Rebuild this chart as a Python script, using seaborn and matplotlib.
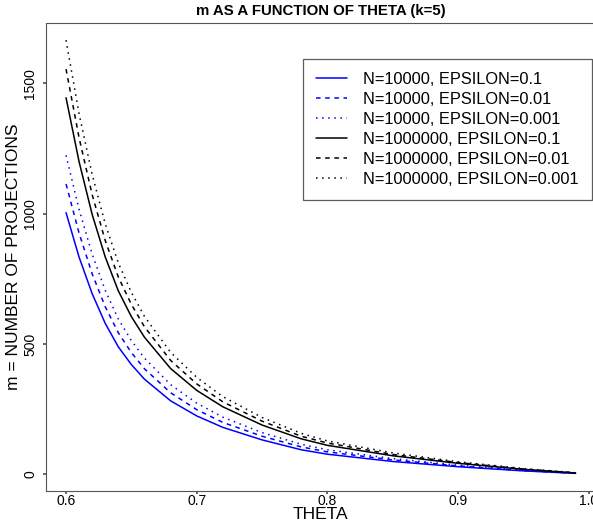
import matplotlib
matplotlib.use("Agg")
import matplotlib.pyplot as plt
import seaborn as sns
import pandas as pd

# values
theta = [0.60, 0.61, 0.62, 0.63, 0.64, 0.65, 0.66, 0.68, 0.70, 0.72,
         0.75, 0.78, 0.80, 0.85, 0.90, 0.95, 0.99]

m_n1e4_e1 = [1004, 833, 693, 579, 489, 421, 365, 282, 224, 180,
             132, 94, 77, 49, 29, 13, 3.4]
m_n1e4_e2 = [1114, 925, 769, 643, 543, 467, 405, 313, 248, 199,
             146, 105, 86, 55, 32, 14, 3.8]
m_n1e4_e3 = [1224, 1016, 845, 706, 596, 513, 446, 344, 273, 219,
             160, 115, 94, 60, 35, 16, 4.2]
m_n1e6_e1 = [1445, 1199, 997, 834, 704, 605, 526, 406, 322, 259,
             189, 136, 111, 71, 42, 19, 4.9]
m_n1e6_e2 = [1555, 1291, 1073, 897, 757, 652, 566, 437, 347, 278,
             204, 146, 120, 76, 45, 20, 5.3]
m_n1e6_e3 = [1666, 1383, 1150, 961, 811, 698, 606, 468, 372, 298,
             218, 157, 128, 82, 48, 22, 5.7]

labels = ["N=10000, EPSILON=0.1", "N=10000, EPSILON=0.01", "N=10000, EPSILON=0.001",
          "N=1000000, EPSILON=0.1", "N=1000000, EPSILON=0.01", "N=1000000, EPSILON=0.001"]
series = [m_n1e4_e1, m_n1e4_e2, m_n1e4_e3, m_n1e6_e1, m_n1e6_e2, m_n1e6_e3]
colors = ["#0000ff"] * 3 + ["black"] * 3
styles = ["-", (0, (3, 3)), (0, (1, 3))] * 2

sns.set_theme(style="white")
plt.rcParams["font.family"] = ["Liberation Sans", "DejaVu Sans"]
plt.rcParams["text.color"] = "black"
plt.rcParams["axes.labelcolor"] = "black"
plt.rcParams["xtick.color"] = "black"
plt.rcParams["ytick.color"] = "black"

fig = plt.figure(figsize=(5.93, 5.21), dpi=100)
ax = fig.add_axes([0.077, 0.0582, 0.928, 0.897])

for vals, lab, col, ls in zip(series, labels, colors, styles):
    df = pd.DataFrame({"theta": theta, "m": vals})
    sns.lineplot(data=df, x="theta", y="m", ax=ax, color=col, linestyle=ls,
                 linewidth=1.1, label=lab)

ax.set_xlim(0.5844, 1.0056)
ax.set_ylim(-63, 1730.6)
ax.set_xticks([0.6, 0.7, 0.8, 0.9, 1.0])
ax.set_xticklabels(["0.6", "0.7", "0.8", "0.9", "1.0"])
ax.set_yticks([0, 500, 1000, 1500])
ax.set_yticklabels(["0", "500", "1000", "1500"], rotation=90, va="center")
ax.tick_params(axis="x", direction="out", length=2, pad=0.5, labelsize=10, color="#555555")
ax.tick_params(axis="y", direction="out", length=2, pad=4, labelsize=10, color="#555555")
ax.tick_params(bottom=True, left=True)

for sp in ax.spines.values():
    sp.set_linestyle((0, (1, 1)))
    sp.set_linewidth(0.8)
    sp.set_color("#555555")

ax.set_title("m AS A FUNCTION OF THETA (k=5)", fontsize=10.8, fontweight="bold", pad=6)
ax.set_xlabel("THETA", fontsize=12.5, labelpad=-1)
ax.set_ylabel("m = NUMBER OF PROJECTIONS", fontsize=12.5, labelpad=2)

leg = ax.legend(loc="upper right", bbox_to_anchor=(0.992, 0.9236), fontsize=11.8,
                frameon=True, fancybox=False, handlelength=1.85, handletextpad=1.0,
                labelspacing=0.3, borderpad=0.8, borderaxespad=0)
leg.get_frame().set_edgecolor("#333333")
leg.get_frame().set_linewidth(0.9)

fig.savefig("out.png", dpi=100)
